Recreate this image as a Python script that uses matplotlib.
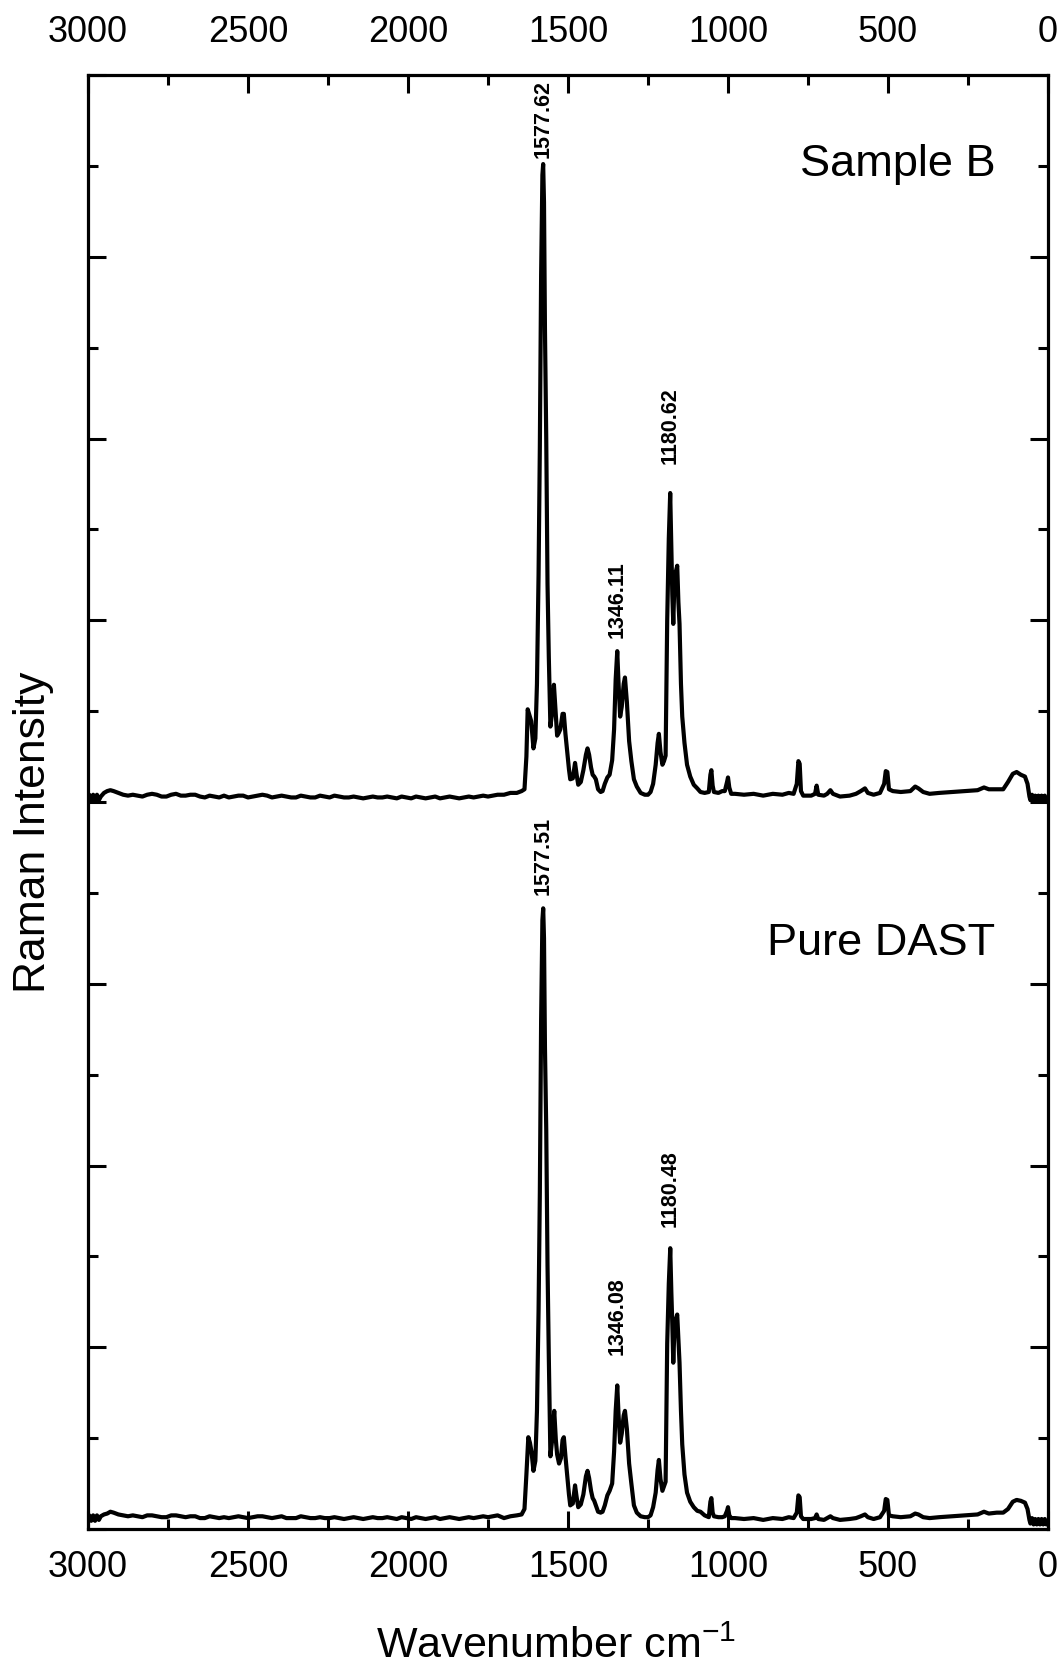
import matplotlib
matplotlib.use("Agg")
import matplotlib.pyplot as plt
from matplotlib.ticker import MultipleLocator

plt.rcParams['font.family'] = ['Liberation Sans', 'DejaVu Sans']
plt.rcParams['mathtext.default'] = 'regular'

# Raman spectrum of Sample B (offset upward), wavenumber in cm-1 and intensity (a.u.)
wn_sample_b = [
    3000, 2996, 2990, 2984, 2978, 2972, 2966, 2960, 2950, 2940, 2930, 2920, 2905, 2890,
    2875, 2860, 2845, 2830, 2815, 2800, 2785, 2770, 2755, 2740, 2725, 2710, 2695, 2680,
    2665, 2650, 2635, 2620, 2605, 2590, 2575, 2560, 2545, 2530, 2515, 2500, 2485, 2470,
    2455, 2440, 2425, 2410, 2395, 2380, 2365, 2350, 2335, 2320, 2305, 2290, 2275, 2260,
    2245, 2230, 2215, 2200, 2185, 2170, 2155, 2140, 2125, 2110, 2095, 2080, 2065, 2050,
    2035, 2020, 2005, 1990, 1975, 1960, 1945, 1930, 1915, 1900, 1885, 1870, 1855, 1840,
    1825, 1810, 1795, 1780, 1765, 1750, 1735, 1720, 1700, 1680, 1660, 1645, 1636, 1630,
    1626, 1620, 1615, 1608, 1602, 1597, 1592, 1588, 1584, 1580, 1577.62, 1575, 1572, 1568,
    1564, 1560, 1555, 1549, 1544, 1538, 1534, 1529, 1524, 1517, 1513, 1508, 1503, 1497,
    1493, 1485, 1478, 1473, 1468, 1460, 1452, 1444, 1439, 1434, 1428, 1423, 1418, 1413,
    1406, 1398, 1392, 1385, 1377, 1370, 1362, 1356, 1351, 1346.11, 1342, 1337, 1332, 1326,
    1322, 1316, 1309, 1302, 1294, 1285, 1273, 1260, 1250, 1242, 1234, 1226, 1220, 1216,
    1211, 1205, 1200, 1195, 1190, 1185, 1180.62, 1177, 1174, 1171, 1167, 1162, 1158.7, 1155,
    1151.5, 1147, 1143, 1136, 1128, 1118, 1107, 1096, 1086, 1073, 1060, 1055, 1052, 1048,
    1044, 1030, 1018, 1010, 1003, 1000, 996, 990, 978, 950, 920, 890, 860, 830,
    810, 795, 785, 780, 776, 772, 765, 740, 728, 723, 718, 700, 690, 680,
    672, 650, 620, 600, 585, 572, 563, 545, 525, 512, 507, 502, 497, 485,
    460, 430, 415, 405, 390, 370, 340, 300, 260, 220, 200, 185, 160, 140,
    125, 110, 98, 85, 72, 64, 58, 55, 50, 45, 40, 35, 30, 25,
    20, 15, 10, 5, 0,
]
int_sample_b = [
    8.00, 8.08, 8.01, 8.08, 8.01, 8.08, 8.02, 8.06, 8.10, 8.12, 8.13, 8.12, 8.10, 8.08,
    8.07, 8.08, 8.07, 8.06, 8.08, 8.09, 8.08, 8.06, 8.06, 8.08, 8.09, 8.07, 8.07, 8.08,
    8.08, 8.06, 8.05, 8.07, 8.06, 8.05, 8.07, 8.05, 8.06, 8.07, 8.07, 8.05, 8.06, 8.07,
    8.08, 8.07, 8.05, 8.06, 8.07, 8.06, 8.05, 8.05, 8.07, 8.06, 8.05, 8.05, 8.07, 8.06,
    8.05, 8.07, 8.06, 8.05, 8.05, 8.06, 8.05, 8.04, 8.05, 8.06, 8.05, 8.05, 8.06, 8.05,
    8.04, 8.06, 8.05, 8.04, 8.06, 8.05, 8.04, 8.05, 8.06, 8.04, 8.05, 8.06, 8.05, 8.04,
    8.05, 8.06, 8.05, 8.06, 8.07, 8.06, 8.07, 8.08, 8.08, 8.10, 8.10, 8.12, 8.14, 8.50,
    9.02, 8.95, 8.89, 8.59, 8.70, 9.30, 10.50, 11.90, 13.80, 14.90, 15.02, 14.60, 13.20, 12.00,
    10.40, 9.60, 8.83, 9.00, 9.29, 8.95, 8.73, 8.76, 8.80, 8.97, 8.97, 8.75, 8.57, 8.36,
    8.25, 8.26, 8.43, 8.30, 8.19, 8.22, 8.35, 8.52, 8.59, 8.52, 8.38, 8.30, 8.28, 8.25,
    8.14, 8.11, 8.12, 8.20, 8.27, 8.30, 8.46, 8.80, 9.35, 9.66, 9.30, 8.94, 9.05, 9.30,
    9.37, 9.10, 8.67, 8.45, 8.25, 8.17, 8.10, 8.08, 8.08, 8.11, 8.20, 8.41, 8.65, 8.75,
    8.55, 8.41, 8.45, 8.51, 10.00, 10.90, 11.40, 10.80, 10.28, 9.96, 10.49, 10.55, 10.60, 10.20,
    9.96, 9.30, 8.94, 8.65, 8.41, 8.28, 8.19, 8.15, 8.11, 8.10, 8.11, 8.30, 8.35, 8.18,
    8.11, 8.10, 8.12, 8.12, 8.22, 8.27, 8.16, 8.09, 8.09, 8.08, 8.09, 8.07, 8.09, 8.08,
    8.10, 8.09, 8.20, 8.45, 8.42, 8.12, 8.07, 8.07, 8.09, 8.18, 8.08, 8.07, 8.09, 8.13,
    8.09, 8.06, 8.07, 8.09, 8.12, 8.15, 8.10, 8.08, 8.10, 8.20, 8.34, 8.33, 8.14, 8.12,
    8.11, 8.12, 8.17, 8.15, 8.11, 8.09, 8.10, 8.11, 8.12, 8.13, 8.16, 8.14, 8.14, 8.14,
    8.22, 8.31, 8.33, 8.30, 8.28, 8.20, 8.06, 8.02, 8.08, 8.01, 8.07, 8.01, 8.07, 8.01,
    8.07, 8.01, 8.07, 8.01, 8.04,
]

# Raman spectrum of pure DAST
wn_pure_dast = [
    3000, 2996, 2990, 2984, 2978, 2972, 2966, 2960, 2950, 2940, 2930, 2920, 2905, 2890,
    2875, 2860, 2845, 2830, 2815, 2800, 2785, 2770, 2755, 2740, 2725, 2710, 2695, 2680,
    2665, 2650, 2635, 2620, 2605, 2590, 2575, 2560, 2545, 2530, 2515, 2500, 2485, 2470,
    2455, 2440, 2425, 2410, 2395, 2380, 2365, 2350, 2335, 2320, 2305, 2290, 2275, 2260,
    2245, 2230, 2215, 2200, 2185, 2170, 2155, 2140, 2125, 2110, 2095, 2080, 2065, 2050,
    2035, 2020, 2005, 1990, 1975, 1960, 1945, 1930, 1915, 1900, 1885, 1870, 1855, 1840,
    1825, 1810, 1795, 1780, 1765, 1750, 1735, 1720, 1700, 1680, 1660, 1645, 1636, 1630,
    1624, 1619, 1614, 1608, 1602, 1597, 1592, 1588, 1584, 1580, 1577.51, 1575, 1572, 1568,
    1564, 1560, 1555, 1549, 1543, 1538, 1534, 1528, 1522, 1517, 1513, 1508, 1503, 1497,
    1493, 1485, 1478, 1473, 1468, 1460, 1452, 1444, 1439, 1434, 1428, 1423, 1418, 1413,
    1406, 1398, 1392, 1385, 1377, 1370, 1362, 1356, 1351, 1346.08, 1342, 1337, 1332, 1326,
    1322, 1316, 1309, 1302, 1294, 1285, 1273, 1260, 1250, 1242, 1234, 1226, 1220, 1216,
    1211, 1205, 1200, 1195, 1190, 1185, 1180.48, 1177, 1174, 1171, 1167, 1162, 1158.7, 1155,
    1151.5, 1147, 1143, 1136, 1128, 1118, 1107, 1096, 1086, 1073, 1060, 1055, 1052, 1048,
    1044, 1030, 1018, 1010, 1003, 1000, 996, 990, 978, 950, 920, 890, 860, 830,
    810, 795, 785, 780, 776, 772, 765, 740, 728, 723, 718, 700, 690, 680,
    672, 650, 620, 600, 585, 572, 563, 545, 525, 512, 507, 502, 497, 485,
    460, 430, 415, 405, 390, 370, 340, 300, 260, 220, 200, 185, 160, 140,
    125, 110, 98, 85, 72, 64, 58, 55, 50, 45, 40, 35, 30, 25,
    20, 15, 10, 5, 0,
]
int_pure_dast = [
    0.08, 0.15, 0.09, 0.15, 0.09, 0.15, 0.10, 0.14, 0.16, 0.17, 0.19, 0.18, 0.16, 0.15,
    0.14, 0.15, 0.14, 0.13, 0.15, 0.15, 0.14, 0.13, 0.13, 0.15, 0.15, 0.14, 0.13, 0.14,
    0.14, 0.12, 0.12, 0.14, 0.13, 0.12, 0.13, 0.12, 0.13, 0.14, 0.13, 0.12, 0.13, 0.14,
    0.14, 0.13, 0.12, 0.13, 0.14, 0.12, 0.12, 0.12, 0.14, 0.13, 0.12, 0.12, 0.13, 0.12,
    0.12, 0.13, 0.12, 0.11, 0.12, 0.13, 0.12, 0.11, 0.12, 0.13, 0.12, 0.12, 0.13, 0.12,
    0.11, 0.13, 0.12, 0.11, 0.13, 0.12, 0.11, 0.12, 0.13, 0.11, 0.12, 0.13, 0.12, 0.11,
    0.12, 0.13, 0.12, 0.13, 0.14, 0.13, 0.14, 0.15, 0.12, 0.14, 0.15, 0.16, 0.22, 0.60,
    1.01, 0.95, 0.85, 0.64, 0.75, 1.30, 2.40, 3.70, 5.60, 6.70, 6.83, 6.50, 5.30, 4.40,
    2.90, 1.90, 0.80, 1.00, 1.30, 0.98, 0.82, 0.72, 0.78, 0.98, 1.01, 0.80, 0.61, 0.38,
    0.26, 0.28, 0.48, 0.35, 0.24, 0.27, 0.38, 0.58, 0.64, 0.56, 0.42, 0.34, 0.31, 0.26,
    0.19, 0.18, 0.19, 0.26, 0.37, 0.42, 0.50, 0.85, 1.30, 1.58, 1.25, 0.95, 1.05, 1.25,
    1.30, 1.10, 0.72, 0.50, 0.26, 0.18, 0.14, 0.13, 0.13, 0.15, 0.24, 0.40, 0.65, 0.76,
    0.55, 0.42, 0.47, 0.52, 2.04, 2.70, 3.09, 2.60, 2.25, 1.83, 2.25, 2.32, 2.36, 2.10,
    1.83, 1.30, 0.93, 0.60, 0.40, 0.30, 0.24, 0.20, 0.19, 0.15, 0.13, 0.30, 0.34, 0.18,
    0.14, 0.13, 0.13, 0.14, 0.20, 0.24, 0.15, 0.12, 0.12, 0.11, 0.12, 0.10, 0.12, 0.11,
    0.13, 0.12, 0.18, 0.37, 0.35, 0.14, 0.11, 0.11, 0.12, 0.16, 0.11, 0.10, 0.12, 0.14,
    0.12, 0.10, 0.11, 0.12, 0.14, 0.16, 0.13, 0.11, 0.13, 0.20, 0.33, 0.32, 0.15, 0.14,
    0.13, 0.14, 0.17, 0.16, 0.13, 0.12, 0.13, 0.14, 0.15, 0.16, 0.19, 0.17, 0.18, 0.18,
    0.22, 0.30, 0.32, 0.31, 0.29, 0.22, 0.10, 0.06, 0.12, 0.05, 0.11, 0.05, 0.11, 0.05,
    0.11, 0.05, 0.11, 0.05, 0.08,
]

# Peak annotations: position (cm-1), label text, label baseline height
peak_pos_b = [1577.62, 1346.11, 1180.62]
peak_txt_b = ["1577.62", "1346.11", "1180.62"]
peak_lab_y_b = [15.09, 9.80, 11.72]

peak_pos_d = [1577.51, 1346.08, 1180.48]
peak_txt_d = ["1577.51", "1346.08", "1180.48"]
peak_lab_y_d = [6.98, 1.91, 3.32]

x_ticks = [3000, 2500, 2000, 1500, 1000, 500, 0]

fig = plt.figure(figsize=(10.63, 16.71), dpi=100)
ax = fig.add_axes([88 / 1063, 1 - 1529 / 1671, 960 / 1063, 1454 / 1671])

ax.plot(wn_sample_b, int_sample_b, color="black", lw=3.0, solid_joinstyle="round")
ax.plot(wn_pure_dast, int_pure_dast, color="black", lw=3.0, solid_joinstyle="round")

for xp, t, yl in zip(peak_pos_b, peak_txt_b, peak_lab_y_b):
    ax.text(xp, yl, t, rotation=90, ha="center", va="bottom", fontsize=15.5,
            fontweight="bold")
for xp, t, yl in zip(peak_pos_d, peak_txt_d, peak_lab_y_d):
    ax.text(xp, yl, t, rotation=90, ha="center", va="bottom", fontsize=15.5,
            fontweight="bold")

ax.text(165, 15.01, "Sample B", ha="right", va="center", fontsize=32.5)
ax.text(165, 6.445, "Pure DAST", ha="right", va="center", fontsize=32.5)

ax.set_xlim(3000, 0)
ax.set_ylim(0, 16)
ax.set_xticks(x_ticks)
ax.xaxis.set_minor_locator(MultipleLocator(250))
ax.yaxis.set_major_locator(MultipleLocator(2))
ax.yaxis.set_minor_locator(MultipleLocator(1))
ax.set_yticklabels([])

ax.tick_params(axis="both", which="both", direction="in", width=2.2,
               top=True, bottom=True, left=True, right=True,
               labeltop=False, labelbottom=True, labelleft=False, labelright=False)
ax.tick_params(which="major", length=13)
ax.tick_params(which="minor", length=7)
ax.tick_params(axis="x", which="major", labelsize=26, pad=15)

# Tick labels along the top edge
top = ax.secondary_xaxis("top")
top.set_xticks(x_ticks)
top.tick_params(axis="x", length=0, labelsize=26, pad=18)
top.spines["top"].set_visible(False)

for sp in ax.spines.values():
    sp.set_linewidth(2.3)

fig.text(34 / 1063, 1 - 832 / 1671, "Raman Intensity", rotation=90,
         ha="center", va="center", fontsize=32)
fig.text(556 / 1063, 1 - 1647 / 1671, "Wavenumber cm$^{-1}$",
         ha="center", va="center", fontsize=31)

fig.savefig("out.png", dpi=100)
